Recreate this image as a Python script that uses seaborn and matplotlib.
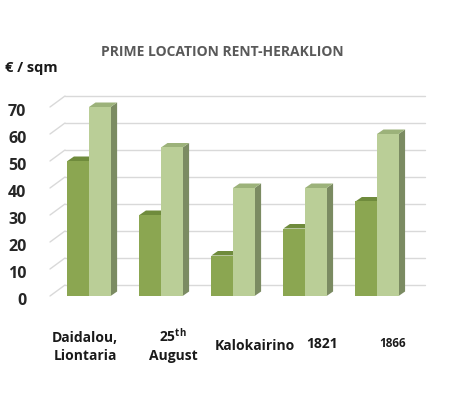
import matplotlib
matplotlib.use("Agg")
import matplotlib.pyplot as plt
import matplotlib.transforms as mtransforms
from matplotlib.patches import Polygon
import seaborn as sns
import pandas as pd

categories = ["Daidalou,\nLiontaria", "25$^{\\mathbf{th}}$\nAugust", "Kalokairino", "1821", "1866"]
series_names = ["Series 1", "Series 2"]
series1 = [50, 30, 15, 25, 35]
series2 = [70, 55, 40, 40, 60]
yticks = [0, 10, 20, 30, 40, 50, 60, 70]

df = pd.DataFrame({
    "cat": list(range(len(categories))) * 2,
    "series": [series_names[0]] * len(series1) + [series_names[1]] * len(series2),
    "value": series1 + series2,
})

sns.set_theme(style="white")
plt.rcParams["font.family"] = ["Open Sans", "DejaVu Sans"]
plt.rcParams["mathtext.fontset"] = "custom"
plt.rcParams["mathtext.bf"] = "Open Sans:bold"
plt.rcParams["mathtext.rm"] = "Open Sans"

fig = plt.figure(figsize=(4.52, 3.93), dpi=100)
ax = fig.add_axes([50 / 452, (393 - 296) / 393, 375 / 452, 76 * 2.7 / 393])

front = {"Series 1": "#8BA651", "Series 2": "#BACE97"}
tops = {"Series 1": "#6F8B3C", "Series 2": "#9CB27A"}
sides = {"Series 1": "#637A36", "Series 2": "#7B8B62"}

sns.barplot(data=df, x="cat", y="value", hue="series", palette=front,
            width=0.6, dodge=True, ax=ax, legend=False, saturation=1,
            native_scale=False)

ax.set_xlim(-0.542, 4.667)
ax.set_ylim(0, 76)

# gridlines with 3D wall effect
gdx, gdy = 15 / 72, 11 / 2.7
for v in yticks:
    ax.plot([-0.542, -0.542 + gdx], [v, v + gdy], color="#D9D9D9", lw=1, zorder=0, clip_on=False)
    ax.plot([-0.542 + gdx, 4.667], [v + gdy, v + gdy], color="#D9D9D9", lw=1, zorder=0, clip_on=False)

# 3D top and side faces derived from seaborn's bars
bdx, bdy = 6.5 / 72, 4.5 / 2.7
bars = list(ax.patches)
n = len(categories)
for i, p in enumerate(bars):
    s = series_names[i // n]
    x0, w, h = p.get_x(), p.get_width(), p.get_height()
    top = Polygon([(x0, h), (x0 + bdx, h + bdy), (x0 + w + bdx, h + bdy), (x0 + w, h)],
                  closed=True, facecolor=tops[s], edgecolor="none", zorder=3, clip_on=False)
    side = Polygon([(x0 + w, 0), (x0 + w, h), (x0 + w + bdx, h + bdy), (x0 + w + bdx, bdy)],
                   closed=True, facecolor=sides[s], edgecolor="none", zorder=2, clip_on=False)
    ax.add_patch(top)
    ax.add_patch(side)
    p.set_zorder(4)
    p.set_edgecolor("none")

for sp in ax.spines.values():
    sp.set_visible(False)

ax.set_yticks(yticks)
ax.set_yticklabels([str(v) for v in yticks], fontsize=11.5, fontweight="bold", color="#262626")
ax.tick_params(axis="y", length=0, pad=17)
for t in ax.get_yticklabels():
    t.set_transform(t.get_transform() + mtransforms.ScaledTranslation(0, -3 / 100, fig.dpi_scale_trans))
ax.set_xticks([])
ax.set_xlabel("")
ax.set_ylabel("")

label_dx = [-4, 12, 22, 17, 16]
label_dy = [0, 4, -8, -6, -6]
label_fs = [10, 10, 10, 10, 8.5]
for i, lab in enumerate(categories):
    tr = ax.get_xaxis_transform() + mtransforms.ScaledTranslation(label_dx[i] / 100, label_dy[i] / 100, fig.dpi_scale_trans)
    ax.text(i, -0.17, lab, transform=tr, ha="center", va="top", fontsize=label_fs[i],
            fontweight="bold", color="#1a1a1a", linespacing=1.35)

fig.text(222 / 452, 1 - 52 / 393, "PRIME LOCATION RENT-HERAKLION", ha="center", va="center",
         fontsize=10, fontweight="bold", color="#595959")
fig.text(5 / 452, 1 - 68 / 393, "€ / sqm", ha="left", va="center",
         fontsize=10.5, fontweight="bold", color="#1a1a1a")

fig.savefig("out.png", dpi=100)
